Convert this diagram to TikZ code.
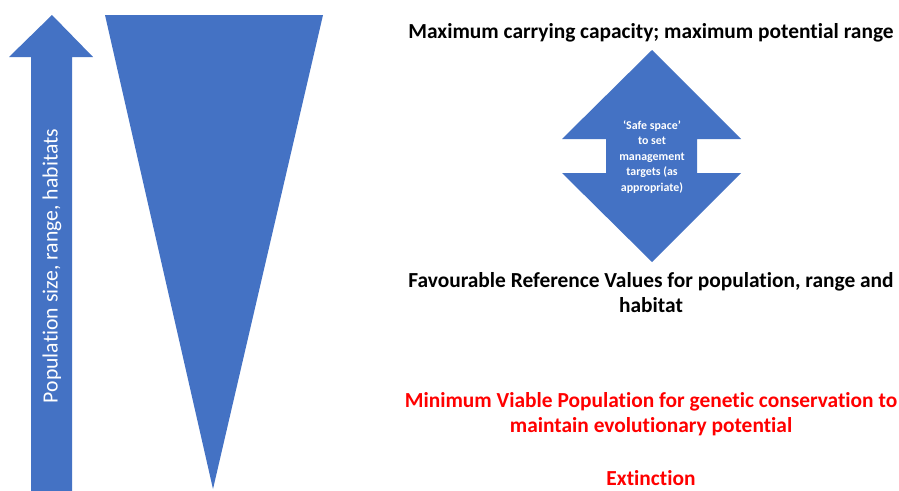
\documentclass[tikz,border=0pt]{standalone}
\usepackage{fontspec}
\setmainfont{Carlito}[Ligatures=NoCommon]
\definecolor{officeblue}{HTML}{4472C4}
\definecolor{lblred}{HTML}{FF0000}
\begin{document}
\begin{tikzpicture}[x=1pt,y=-1pt,
  shapefill/.style={fill=officeblue,draw=none},
  blacklbl/.style={font=\fontsize{21.4}{25}\selectfont\bfseries,text=black,align=center,inner sep=0pt},
  redlbl/.style={font=\fontsize{21.4}{25}\selectfont\bfseries,text=lblred,align=center,inner sep=0pt},
  inlbl/.style={font=\fontsize{11.9}{15.5}\selectfont\bfseries,text=white,align=center,inner sep=0pt}]
\useasboundingbox (0,0) rectangle (899,490);
\fill[white] (0,0) rectangle (899,490);
% up arrow
\path[shapefill] (52,15) -- (93,57) -- (72,57) -- (72,492) -- (31,492) -- (31,57) -- (9,57) -- cycle;
\node[rotate=90,text=white,inner sep=0pt,font=\fontsize{21.7}{24}\selectfont] (axis) at (52,266) {Population size, range, habitats};
% inverted triangle
\path[shapefill] (105,15) -- (323,15) -- (213,489) -- cycle;
% double arrow
\path[shapefill] (652,50) -- (741,139) -- (697,139) -- (697,173) -- (741,173) -- (652,262) -- (562,173) -- (606,173) -- (606,139) -- (562,139) -- cycle;
\node[inlbl] (safe) at (652,157) {‘Safe space’\\to set\\management\\targets (as\\appropriate)};
% labels
\node[blacklbl] (maxcap) at (651,33) {Maximum carrying capacity; maximum potential range};
\node[blacklbl] (frv) at (651,293) {Favourable Reference Values for population, range and\\habitat};
\node[redlbl] (mvp) at (651,414) {Minimum Viable Population for genetic conservation to\\maintain evolutionary potential};
\node[redlbl] (ext) at (651,478) {Extinction};
\end{tikzpicture}
\end{document}
